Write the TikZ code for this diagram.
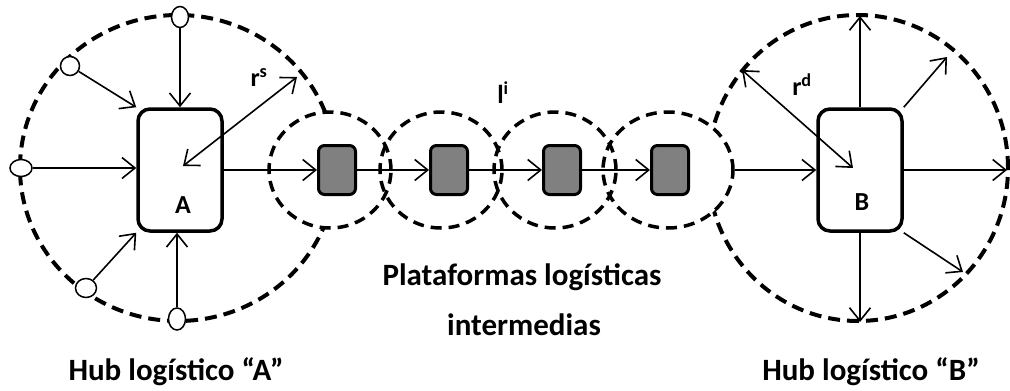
\documentclass[tikz,border=0pt]{standalone}
\usepackage{fontspec}
\setmainfont{Carlito}
\usetikzlibrary{shapes.geometric,arrows.meta}
\definecolor{boxgray}{HTML}{808080}
\begin{document}
\begin{tikzpicture}[x=1pt,y=-1pt,
  hub/.style={ellipse, draw, line width=4pt, dash pattern=on 12pt off 7pt, inner sep=0pt},
  plat/.style={ellipse, draw, line width=3.5pt, dash pattern=on 11pt off 7pt, inner sep=0pt, minimum width=122pt, minimum height=116pt},
  mainbox/.style={draw, line width=3.5pt, rounded corners=12pt, minimum width=84pt, minimum height=122pt, inner sep=0pt},
  gbox/.style={draw, line width=3pt, rounded corners=6pt, fill=boxgray, minimum width=37pt, minimum height=49pt, inner sep=0pt},
  src/.style={ellipse, draw, line width=1.5pt, fill=white, inner sep=0pt, minimum width=19pt, minimum height=19pt},
  arr/.style={line width=1.6pt, -{Straight Barb[length=13pt,width=21pt]}},
  dbl/.style={line width=1.6pt, {Straight Barb[length=13pt,width=21pt]}-{Straight Barb[length=13pt,width=21pt]}},
  lbl/.style={font=\bfseries\fontsize{26}{30}\selectfont, inner sep=0pt},
  captext/.style={font=\bfseries\fontsize{31}{36}\selectfont, inner sep=0pt, anchor=base}
]
\useasboundingbox (0,0) rectangle (1010,391);
% hub circles
\node[hub, minimum width=316pt, minimum height=306pt] (hubA) at (178,168) {};
\node[hub, minimum width=300pt, minimum height=306pt] (hubB) at (858,168) {};
\fill[white] (330,170) ellipse [x radius=61pt, y radius=58pt];
\fill[white] (668,170) ellipse [x radius=65pt, y radius=58pt];
% platform circles
\node[plat] (c1) at (330,170) {};
\node[plat] (c2) at (441,170) {};
\node[plat] (c3) at (555,170) {};
\node[plat, minimum width=130pt] (c4) at (668,170) {};
% source nodes
\node[src, minimum width=17pt, minimum height=21pt] (st) at (180,17) {};
\node[src] (sul) at (70,66) {};
\node[src, minimum width=22pt, minimum height=17pt] (sl) at (21,168) {};
\node[src, minimum width=21pt] (sdl) at (86,288) {};
\node[src, minimum width=17pt, minimum height=22pt] (sb) at (177,319) {};
% boxes
\node[mainbox] (A) at (180,170) {};
\node[lbl] (labA) at (183,205) {A};
\node[mainbox] (B) at (860,170) {};
\node[lbl] (labB) at (862,202) {B};
\node[gbox] (g1) at (337,170) {};
\node[gbox] (g2) at (449,170) {};
\node[gbox] (g3) at (562,170) {};
\node[gbox] (g4) at (670,170) {};
% arrows into A
\draw[arr] (st) -- (A.north);
\draw[arr] (sul) -- (A.north west);
\draw[arr] (sl) -- (sl -| A.west);
\draw[arr] (sdl) -- (A.south west);
\draw[arr] (sb) -- (sb |- A.south);
\coordinate (rsin) at (183,166);
\coordinate (rsout) at (297,77);
\draw[dbl] (rsin) -- (rsout);
% chain
\draw[arr] (A.east) -- (g1.west);
\draw[arr] (g1.east) -- (g2.west);
\draw[arr] (g2.east) -- (g3.west);
\draw[arr] (g3.east) -- (g4.west);
\draw[arr] (c4.east) -- (B.west);
% arrows out of B
\coordinate (bt) at (860,16);
\coordinate (bur) at (947,57);
\coordinate (br) at (1007,170);
\coordinate (bdr) at (963,272);
\coordinate (bd) at (860,322);
\draw[arr] (B.north) -- (bt);
\draw[arr] (B.north east) -- (bur);
\draw[arr] (B.east) -- (br);
\draw[arr] (B.south east) -- (bdr);
\draw[arr] (B.south) -- (bd);
\coordinate (rdo) at (742,70);
\coordinate (rdi) at (853,168);
\draw[dbl] (rdo) -- (rdi);
% labels
\node[lbl] (rs) at (259,78) {r\textsuperscript{s}};
\node[lbl] (rd) at (802,85) {r\textsuperscript{d}};
\node[lbl] (li) at (503,93) {l\textsuperscript{i}};
\node[captext] (plat1) at (522,285) {Plataformas logísticas};
\node[captext] (plat2) at (524,335) {intermedias};
\node[captext] (hubAl) at (176,380) {Hub logístico “A”};
\node[captext] (hubBl) at (871,380) {Hub logístico “B”};
\end{tikzpicture}
\end{document}
